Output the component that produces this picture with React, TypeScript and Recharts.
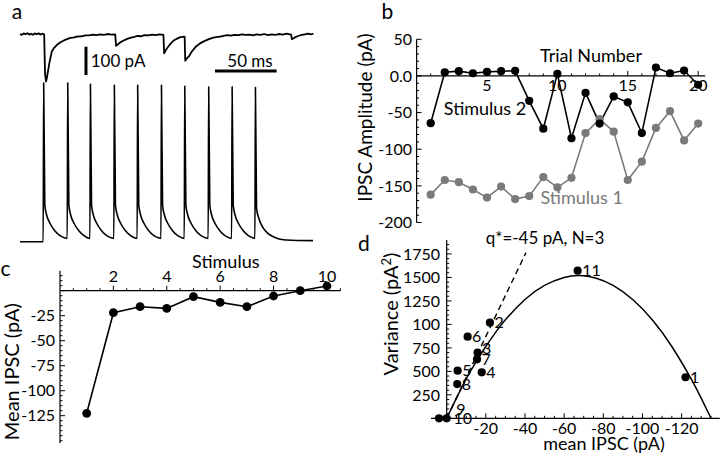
import React from 'react';
import { ComposedChart, Line, Scatter, XAxis, YAxis, ReferenceLine } from 'recharts';

const FONT = "Lato, 'Open Sans', sans-serif";
const TICK_FS = 16;
const LABEL_FS = 18;

// ---------- Panel a: traces (time in ms, current in pA, voltage in mV) ----------
const currentTrace: [number, number][] = [
  [0, 0], [1.5, -3], [3, 2], [4.5, -1], [6, 3], [7.5, -2], [9, 1], [10.5, -3], [12, 2], [13.5, -1], [15, 2.5], [16.5, -2], [18, 1], [19.6, -1],
  [20.3, -140], [21.1, -168], [22, -150], [23.8, -103], [25.7, -63], [27.5, -50], [29.8, -39], [32.5, -30], [35.1, -24], [38, -18], [41, -14], [44, -12], [46, -9], [50, -8], [53, -5], [56, -5], [59.4, -2], [62, -4], [65, -1], [68, -3], [71, 0], [74, -2], [77.2, -1],
  [77.9, -42], [79.5, -36], [81.5, -29], [84, -23], [86.5, -18], [89.2, -14], [92, -11], [95, -7], [98, -8], [101, -4], [104, -5], [107, -2], [110, -4], [113, -1], [116.3, -3],
  [116.9, -68], [118.5, -55], [120.3, -44], [122.3, -33], [124.3, -24], [127, -17], [130, -11], [133.5, -9],
  [134, -94], [135.5, -85], [137.3, -77], [139, -64], [140.6, -55], [143, -43], [146, -33], [149, -26], [152.7, -19], [156, -14], [159, -11], [162.2, -9], [165, -7], [168, -4], [171, -6], [174, -3], [177, -4], [180, -1], [183, -3], [186, -2], [189, -5], [192, -1], [195, -3], [198, 0], [201, -4], [204, -1], [207, -3], [210, 0], [213, -2], [216, 1], [219.8, -2],
  [220.5, -18], [222.5, -13], [225.5, -7], [228.5, -3], [231, -1], [233.5, 1], [236, -1], [237.9, 1],
];

const voltageTrace: [number, number][] = [
  [0, -70], [18.8, -70],
  [19.2, 36], [20.1, -45.5], [21.6, -52.2], [24.3, -57.7], [28.4, -62.9], [32.4, -66], [36.5, -67.5], [38.3, -67.8],
  [38.7, 36], [39.6, -45.5], [41.1, -52.2], [43.8, -57.7], [47.9, -62.9], [51.9, -66], [55, -67.5], [56.7, -67.8],
  [57.1, 35.1], [58, -45.5], [59.5, -52.2], [62.2, -57.7], [66.3, -62.9], [70.3, -66], [74.4, -67.5], [76.1, -67.8],
  [76.5, 34.5], [77.4, -45.5], [78.9, -52.2], [81.6, -57.7], [85.7, -62.9], [89.7, -66], [93.3, -67.5], [95, -67.8],
  [95.4, 34.5], [96.3, -45.5], [97.8, -52.2], [100.5, -57.7], [104.6, -62.9], [108.6, -66], [112.7, -67.5], [114.3, -67.8],
  [114.7, 34.5], [115.6, -45.5], [117.1, -52.2], [119.8, -57.7], [123.9, -62.9], [127.9, -66], [131.6, -67.5], [133.2, -67.8],
  [133.6, 33.8], [134.5, -45.5], [136, -52.2], [138.7, -57.7], [142.8, -62.9], [146.8, -66], [150.9, -67.5], [152.6, -67.8],
  [153, 33.3], [153.9, -45.5], [155.4, -52.2], [158.1, -57.7], [162.2, -62.9], [166.2, -66], [170, -67.5], [171.6, -67.8],
  [172, 33.3], [172.9, -45.5], [174.4, -52.2], [177.1, -57.7], [181.2, -62.9], [185.2, -66], [189, -67.5], [190.5, -67.8],
  [190.9, 32.9], [191.8, -47.7], [193.5, -54], [197.3, -60.9], [201, -64.5], [205.4, -66.7], [210, -68.2], [216.3, -68.9], [225, -69.2], [237.6, -69.3],
];

const scaleBarPA: [number, number][] = [[53.5, -45], [53.5, -145]];
const scaleBarMs: [number, number][] = [[158.1, -130.7], [208.1, -130.7]];

// ---------- Panel b ----------
const trials = [1, 2, 3, 4, 5, 6, 7, 8, 9, 10, 11, 12, 13, 14, 15, 16, 17, 18, 19, 20];
const stimulus2 = [-64.5, 5, 6.5, 3.7, 5.5, 6.5, 7, -34, -72, 2.8, -85, -23, -65, -28, -36, -78, 11.5, 3.7, 7.4, -12];
const stimulus1 = [-162, -142, -145, -155, -166, -151, -168, -164, -138, -152, -139, -78, -59, -76, -142, -117, -71, -48, -88, -65];
const bXTicks = [1, 2, 3, 4, 5, 6, 7, 8, 9, 10, 11, 12, 13, 14, 15, 16, 17, 18, 19, 20];
const bYTicks = [-200, -190, -180, -170, -160, -150, -140, -130, -120, -110, -100, -90, -80, -70, -60, -50, -40, -30, -20, -10, 0, 10, 20, 30, 40, 50];

// ---------- Panel c ----------
const stimuli = [1, 2, 3, 4, 5, 6, 7, 8, 9, 10];
const meanIpsc = [-122.6, -22, -16, -17.7, -6, -11.7, -16, -5.3, 0, 4.7];
const cXTicks = [0.5, 1, 1.5, 2, 2.5, 3, 3.5, 4, 4.5, 5, 5.5, 6, 6.5, 7, 7.5, 8, 8.5, 9, 9.5, 10, 10.5];
const cYTicks = [-150, -145, -140, -135, -130, -125, -120, -115, -110, -105, -100, -95, -90, -85, -80, -75, -70, -65, -60, -55, -50, -45, -40, -35, -30, -25, -20, -15, -10, -5, 0, 5, 10, 15];

// ---------- Panel d ----------
const dLabels = ['1', '2', '3', '4', '5', '6', '7', '8', '9', '10', '11'];
const dMean = [-122, -22.1, -15.8, -17.9, -5.6, -10.7, -15.5, -5.4, 0, 3.9, -66.9];
const dVariance = [437, 1018, 699, 490, 507, 869, 628, 365, 0, 0, 1572];
const fitMean = [0, -5, -10, -15, -20, -25, -30, -40, -50, -60, -68, -76, -85, -95, -105, -115, -125, -130, -135];
const fitVariance = [0, 215, 420, 600, 765, 915, 1050, 1265, 1415, 1500, 1520, 1495, 1415, 1265, 1050, 765, 415, 215, 0];
const slopeMean = [0, -40.5];
const slopeVariance = [0, 1765];
const dXTicks = [5, 0, -5, -10, -15, -20, -25, -30, -35, -40, -45, -50, -55, -60, -65, -70, -75, -80, -85, -90, -95, -100, -105, -110, -115, -120, -125, -130, -135];
const dYTicks = [50, 100, 150, 200, 250, 300, 350, 400, 450, 500, 550, 600, 650, 700, 750, 800, 850, 900, 950, 1000, 1050, 1100, 1150, 1200, 1250, 1300, 1350, 1400, 1450, 1500, 1550, 1600, 1650, 1700, 1750, 1800, 1850];
const dYLabels: Record<number, string> = { 250: '250', 500: '500', 750: '750', 1000: '100', 1250: '1250', 1500: '1500', 1750: '1750' };
const labelNudge: Record<string, [number, number]> = { '9': [5, -9], '10': [10, 0], '3': [0, -4] };

// ---------- layout (plot rectangles in page pixels) ----------
const A = { left: 20, right: 313.5, top: 20, bottom: 250 };
const B = { left: 416.6, right: 705.2, top: 39.3, bottom: 222.5 };
const C = { left: 60, right: 340.3, top: 270.7, bottom: 443 };
const D = { left: 431, right: 719.8, top: 239.9, bottom: 418.3 };
const W = 720;
const H = 456;
const YW = 30; // y-axis band width
const XH = 10; // x-axis band height
const marginOf = (r: { left: number; right: number; top: number; bottom: number }, axes = true) => ({
  left: r.left - (axes ? YW : 0), right: W - r.right, top: r.top, bottom: H - r.bottom - (axes ? XH : 0),
});

const B_Y = [-200, 50];
const C_Y = [-152.3, 20];
const D_X = [-139.5, 8];

const currentData = currentTrace.map(([t, y]) => ({ t, y }));
const voltageData = voltageTrace.map(([t, y]) => ({ t, y }));
const bData = trials.map((trial, i) => ({ trial, s1: stimulus1[i], s2: stimulus2[i] }));
const cData = stimuli.map((s, i) => ({ s, m: meanIpsc[i] }));
const dPoints = dLabels.map((label, i) => ({ I: dMean[i], v: dVariance[i], label }));
const fitData = fitMean.map((I, i) => ({ I, v: fitVariance[i] }));
const slopeData = slopeMean.map((I, i) => ({ I, v: slopeVariance[i] }));

const txt = { fontFamily: FONT, fill: '#000' } as const;

// ---------- custom ticks ----------
const BXTick = (p: any) => {
  const { x, y, payload } = p;
  const y0 = y - (B.bottom - B.top) * (0 - B_Y[0]) / (B_Y[1] - B_Y[0]);
  const major = payload.value % 5 === 0;
  return (
    <g>
      <line x1={x} x2={x} y1={y0} y2={y0 - (major ? 5 : 2.5)} stroke="#000" strokeWidth={1} />
      {major && <text x={x} y={y0 + 15.5} textAnchor="middle" fontSize={TICK_FS} {...txt}>{payload.value}</text>}
    </g>
  );
};
const BYTick = (p: any) => {
  const { x, y, payload } = p;
  const major = payload.value % 50 === 0;
  return (
    <g>
      <line x1={x} x2={x + (major ? 5 : 2.5)} y1={y} y2={y} stroke="#000" strokeWidth={1} />
      {major && <text x={x - 4.5} y={y} dy="0.36em" textAnchor="end" fontSize={TICK_FS} {...txt}>{payload.value === 0 ? '0.0' : payload.value}</text>}
    </g>
  );
};
const CXTick = (p: any) => {
  const { x, y, payload } = p;
  const y0 = y - (C.bottom - C.top) * (0 - C_Y[0]) / (C_Y[1] - C_Y[0]);
  const major = payload.value % 2 === 0;
  return (
    <g>
      <line x1={x} x2={x} y1={y0} y2={y0 - (major ? 5 : 2.5)} stroke="#000" strokeWidth={1} />
      {major && <text x={x} y={y0 - 9} textAnchor="middle" fontSize={TICK_FS} {...txt}>{payload.value}</text>}
    </g>
  );
};
const CYTick = (p: any) => {
  const { x, y, payload } = p;
  const v = payload.value;
  const major = v % 25 === 0 && v !== -150;
  const labeled = major && v !== 0;
  return (
    <g>
      <line x1={x} x2={x + (major ? 5 : 2.5)} y1={y} y2={y} stroke="#000" strokeWidth={1} />
      {labeled && <text x={x - 5} y={y} dy="0.36em" textAnchor="end" fontSize={TICK_FS} {...txt}>{v}</text>}
    </g>
  );
};
const DXTick = (p: any) => {
  const { x, y, payload } = p;
  const v = payload.value;
  const major = v % 20 === 0;
  return (
    <g>
      <line x1={x} x2={x} y1={y} y2={y - (major ? 5 : 2.5)} stroke="#000" strokeWidth={1} />
      {major && v !== 0 && <text x={x} y={y + 15.5} textAnchor="middle" fontSize={TICK_FS} {...txt}>{v}</text>}
    </g>
  );
};
const DYTick = (p: any) => {
  const { x, y, payload } = p;
  const x0 = x + (D.right - D.left) * (D_X[1] - 0) / (D_X[1] - D_X[0]);
  const v = payload.value;
  const lab = dYLabels[v];
  return (
    <g>
      <line x1={x0} x2={x0 + (lab ? 5 : 2.5)} y1={y} y2={y} stroke="#000" strokeWidth={1} />
      {lab && <text x={x0 - 6.5} y={y} dy="0.36em" textAnchor="end" fontSize={TICK_FS} {...txt}>{lab}</text>}
    </g>
  );
};

const DPointShape = (p: any) => {
  const { cx, cy, payload } = p;
  const n = labelNudge[payload.label] || [0, 0];
  return (
    <g>
      <circle cx={cx} cy={cy} r={4.1} fill="#000" />
      <text x={cx + 4.5 + n[0]} y={cy + n[1]} dy="0.36em" fontSize={16} {...txt}>{payload.label}</text>
    </g>
  );
};

const layer: React.CSSProperties = { position: 'absolute', left: 0, top: 0 };

export default function App() {
  return (
    <div style={{ position: 'absolute', left: 0, top: 0, width: W, height: H, background: '#fff', overflow: 'hidden' }}>
      {/* Panel a */}
      <div style={layer}>
        <ComposedChart width={W} height={H} margin={marginOf(A, false)}>
          <XAxis type="number" dataKey="t" domain={[0, 238]} hide />
          <YAxis yAxisId="i" type="number" domain={[-763.3, 49.5]} hide />
          <YAxis yAxisId="v" type="number" domain={[-75.53, 77.8]} hide />
          <Line yAxisId="i" data={currentData} dataKey="y" type="linear" dot={false} stroke="#000" strokeWidth={1.8} strokeLinejoin="round" isAnimationActive={false} />
          <Line yAxisId="v" data={voltageData} dataKey="y" type="monotone" dot={false} stroke="#000" strokeWidth={1.6} strokeLinejoin="round" isAnimationActive={false} />
          <ReferenceLine yAxisId="i" segment={scaleBarPA.map(([x, y]) => ({ x, y }))} stroke="#000" strokeWidth={3} />
          <ReferenceLine yAxisId="i" segment={scaleBarMs.map(([x, y]) => ({ x, y }))} stroke="#000" strokeWidth={3} />
        </ComposedChart>
      </div>

      {/* Panel b */}
      <div style={layer}>
        <ComposedChart width={W} height={H} margin={marginOf(B)} data={bData}>
          <XAxis type="number" dataKey="trial" domain={[0, 20.5]} ticks={bXTicks} interval={0} height={XH} axisLine={false} tickLine={false} tickSize={0} tickMargin={0} tick={(p: any) => <BXTick {...p} />} />
          <YAxis type="number" domain={B_Y} ticks={bYTicks} interval={0} width={YW} axisLine={{ stroke: '#000', strokeWidth: 1.2 }} tickLine={false} tickSize={0} tickMargin={0} tick={(p: any) => <BYTick {...p} />} />
          <ReferenceLine y={0} stroke="#000" strokeWidth={1.3} />
          <Line dataKey="s1" type="linear" stroke="#7a7a7a" strokeWidth={1.6} dot={{ r: 4.1, fill: '#7a7a7a', stroke: 'none' }} isAnimationActive={false} />
          <Line dataKey="s2" type="linear" stroke="#000" strokeWidth={1.6} dot={{ r: 4.1, fill: '#000', stroke: 'none' }} isAnimationActive={false} />
        </ComposedChart>
      </div>

      {/* Panel c */}
      <div style={layer}>
        <ComposedChart width={W} height={H} margin={marginOf(C)} data={cData}>
          <XAxis type="number" dataKey="s" domain={[0, 10.5]} ticks={cXTicks} interval={0} height={XH} axisLine={false} tickLine={false} tickSize={0} tickMargin={0} tick={(p: any) => <CXTick {...p} />} />
          <YAxis type="number" domain={C_Y} ticks={cYTicks} interval={0} width={YW} axisLine={{ stroke: '#000', strokeWidth: 1.2 }} tickLine={false} tickSize={0} tickMargin={0} tick={(p: any) => <CYTick {...p} />} />
          <ReferenceLine y={0} stroke="#000" strokeWidth={1.3} />
          <Line dataKey="m" type="linear" stroke="#000" strokeWidth={1.6} dot={{ r: 4.4, fill: '#000', stroke: 'none' }} isAnimationActive={false} />
        </ComposedChart>
      </div>

      {/* Panel d */}
      <div style={layer}>
        <ComposedChart width={W} height={H} margin={marginOf(D)}>
          <XAxis type="number" dataKey="I" domain={D_X} reversed ticks={dXTicks} interval={0} height={XH} axisLine={{ stroke: '#000', strokeWidth: 1.2 }} tickLine={false} tickSize={0} tickMargin={0} tick={(p: any) => <DXTick {...p} />} />
          <YAxis type="number" dataKey="v" domain={[0, 1900]} ticks={dYTicks} interval={0} width={YW} axisLine={false} tickLine={false} tickSize={0} tickMargin={0} tick={(p: any) => <DYTick {...p} />} />
          <ReferenceLine x={0} stroke="#000" strokeWidth={1.2} />
          <Line data={fitData} dataKey="v" type="natural" dot={false} stroke="#000" strokeWidth={1.5} isAnimationActive={false} />
          <Line data={slopeData} dataKey="v" type="linear" dot={false} stroke="#000" strokeWidth={1.4} strokeDasharray="6 4" isAnimationActive={false} />
          <Scatter data={dPoints} dataKey="v" shape={(p: any) => <DPointShape {...p} />} isAnimationActive={false} />
        </ComposedChart>
      </div>

      {/* Text annotations */}
      <svg width={W} height={H} style={{ ...layer, pointerEvents: 'none' }}>
        <text x={17} y={19} fontSize={21} textAnchor="middle" {...txt}>a</text>
        <text x={387.5} y={19} fontSize={21} textAnchor="middle" {...txt}>b</text>
        <text x={5.5} y={276} fontSize={21} textAnchor="middle" {...txt}>c</text>
        <text x={364} y={251} fontSize={21} textAnchor="middle" {...txt}>d</text>

        <text x={90.7} y={66.7} fontSize={17} {...txt}>100 pA</text>
        <text x={250} y={66.7} fontSize={17} textAnchor="middle" {...txt}>50 ms</text>

        <text x={372} y={117.5} fontSize={19} textAnchor="middle" transform="rotate(-90 372 117.5)" {...txt}>IPSC Amplitude (pA)</text>
        <text x={591} y={61.7} fontSize={LABEL_FS} textAnchor="middle" {...txt}>Trial Number</text>
        <text x={485} y={115} fontSize={LABEL_FS} textAnchor="middle" {...txt}>Stimulus 2</text>
        <text x={581.7} y={204} fontSize={LABEL_FS} textAnchor="middle" fontFamily={FONT} fill="#7a7a7a">Stimulus 1</text>

        <text x={225.8} y={267.5} fontSize={LABEL_FS} textAnchor="middle" {...txt}>Stimulus</text>
        <text x={19.5} y={371.7} fontSize={20} textAnchor="middle" transform="rotate(-90 19.5 371.7)" {...txt}>Mean IPSC (pA)</text>

        <text x={545} y={244} fontSize={17} textAnchor="middle" {...txt}>q*=-45 pA, N=3</text>
        <text x={398} y={314} fontSize={20} textAnchor="middle" transform="rotate(-90 398 314)" {...txt}>
          <tspan>Variance (pA</tspan>
          <tspan dy={-7} fontSize={13}>2</tspan>
          <tspan dy={7}>)</tspan>
        </text>
        <text x={604} y={450} fontSize={LABEL_FS} textAnchor="middle" {...txt}>mean IPSC (pA)</text>
      </svg>
    </div>
  );
}
